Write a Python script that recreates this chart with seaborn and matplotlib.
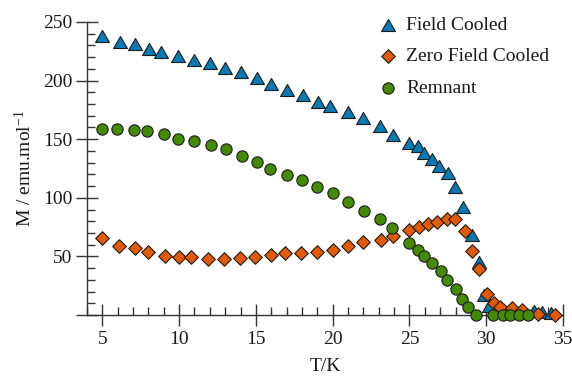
import numpy as np
import matplotlib
matplotlib.use("Agg")
import matplotlib.pyplot as plt
from matplotlib.path import Path
from matplotlib.ticker import MultipleLocator, FuncFormatter
import seaborn as sns

# Field cooled magnetisation
fc_T = [5.0, 6.15, 7.15, 8.05, 8.85, 9.95, 11.0, 12.0, 13.0, 14.0, 15.05, 16.0,
        17.0, 18.05, 19.05, 19.85, 21.0, 21.95, 23.1, 23.9, 24.95, 25.55, 25.95,
        26.5, 26.95, 27.5, 27.95, 28.5, 29.1, 29.5, 29.85, 30.15, 30.8, 31.6,
        32.4, 33.1, 33.6, 34.2]
fc_M = [238, 233, 231, 227, 224, 221, 218, 215, 211, 207, 202, 197,
        192, 188, 182, 178, 173, 168, 161, 154, 147, 144, 138,
        133, 127, 121, 109.5, 92, 68, 45.5, 17, 8, 4, 3,
        3, 3, 2.5, 2]

# Zero field cooled magnetisation
zfc_T = [4.96, 6.1, 7.13, 8.0, 9.05, 10.0, 10.78, 11.9, 12.95, 13.95, 14.95,
         15.96, 16.9, 17.95, 19.0, 20.0, 21.0, 22.0, 23.15, 23.96, 24.98, 25.65,
         26.2, 26.78, 27.45, 27.97, 28.6, 29.06, 29.56, 30.08, 30.5, 30.9, 31.67,
         32.3, 33.4, 34.5]
zfc_M = [65.4, 59, 57, 54, 50.6, 49.8, 49.8, 47.5, 47.5, 48.5, 49.8,
         51.5, 52.6, 53, 54, 55.5, 59, 62, 64, 67.4, 72.5, 75.4,
         78, 79.6, 81.7, 81.7, 72, 55, 39, 18, 10, 7, 5.7,
         4.3, 1, 0]

# Remnant magnetisation
rem_T = [4.96, 5.97, 7.06, 7.93, 9.02, 9.9, 10.99, 12.08, 13.04, 14.08, 15.06,
         15.9, 17.0, 17.98, 18.96, 20.05, 21.03, 22.07, 23.05, 23.85, 25.0,
         25.55, 25.97, 26.5, 27.04, 27.43, 28.04, 28.4, 28.84, 29.34, 30.47,
         31.1, 31.56, 32.16, 32.7]
rem_M = [158.4, 158.4, 157.8, 157.3, 154.4, 150.5, 148.5, 145, 141.4, 136, 130.3,
         125, 119.5, 115, 109, 104, 96.7, 89, 81.7, 74, 61.7,
         55.5, 50.3, 44, 37.5, 30, 22, 13.6, 7, 0, 0,
         0, 0, 0, 0]

labels = ["Field Cooled", "Zero Field Cooled", "Remnant"]
colors = ["#0a7ab4", "#e35a05", "#448a04"]
x_ticks = [5, 10, 15, 20, 25, 30, 35]
y_ticks = [0, 50, 100, 150, 200, 250]

sns.set_style("ticks")
plt.rcParams["font.family"] = ["Liberation Serif", "DejaVu Serif"]
plt.rcParams["mathtext.fontset"] = "custom"
plt.rcParams["mathtext.rm"] = "Liberation Serif"
plt.rcParams["mathtext.it"] = "Liberation Serif:italic"

fig = plt.figure(figsize=(5.72, 3.78), dpi=100)
ax = fig.add_axes([87 / 572, 63 / 378, 476 / 572, 293 / 378])

tri = Path([(-1, -0.866), (1, -0.866), (0, 0.866), (-1, -0.866)],
           [Path.MOVETO, Path.LINETO, Path.LINETO, Path.CLOSEPOLY])
edge = "#1c1c1c"

sns.scatterplot(x=fc_T, y=fc_M, marker=tri, s=100, color=colors[0],
                edgecolor=edge, linewidth=0.8, label=labels[0], ax=ax,
                clip_on=False, zorder=3)
sns.scatterplot(x=zfc_T, y=zfc_M, marker="D", s=48, color=colors[1],
                edgecolor=edge, linewidth=0.8, label=labels[1], ax=ax,
                clip_on=False, zorder=4)
sns.scatterplot(x=rem_T, y=rem_M, marker="o", s=66, color=colors[2],
                edgecolor=edge, linewidth=0.8, label=labels[2], ax=ax,
                clip_on=False, zorder=5)

ax.set_xlim(4, 35)
ax.set_ylim(0, 250)
ax.set_xticks(x_ticks)
ax.set_yticks(y_ticks)
ax.xaxis.set_minor_locator(MultipleLocator(1))
ax.yaxis.set_minor_locator(MultipleLocator(10))
ax.yaxis.set_major_formatter(FuncFormatter(lambda v, p: "" if v == 0 else f"{v:g}"))

for side in ("top", "right"):
    ax.spines[side].set_visible(False)
for side in ("left", "bottom"):
    ax.spines[side].set_color("#333333")
    ax.spines[side].set_linewidth(1.0)

ax.tick_params(which="major", direction="inout", length=15.5, width=1.0,
               color="#333333", labelsize=14, labelcolor="#1a1a1a")
ax.tick_params(axis="y", which="major", pad=2.9)
ax.tick_params(axis="x", which="major", pad=3.6)
ax.tick_params(which="minor", direction="in", length=5.8, width=1.0,
               color="#333333")

ax.set_xlabel("T/K", fontsize=14, color="#1a1a1a", va="top")
ax.set_ylabel("M / emu.mol$^{-1}$", fontsize=14, color="#1a1a1a")
ax.xaxis.set_label_coords(0.5, -(358 - 315) / 293)
ax.yaxis.set_label_coords(-(87 - 35) / 476, 0.5)

leg = ax.legend(loc="upper left", bbox_to_anchor=(378 / 572, 1 - 16 / 378),
                bbox_transform=fig.transFigure, frameon=False, fontsize=14,
                handlelength=1.0, handletextpad=0.45, labelspacing=0.72,
                borderpad=0, borderaxespad=0)
for t in leg.get_texts():
    t.set_color("#1a1a1a")

fig.savefig("out.png", dpi=100)
